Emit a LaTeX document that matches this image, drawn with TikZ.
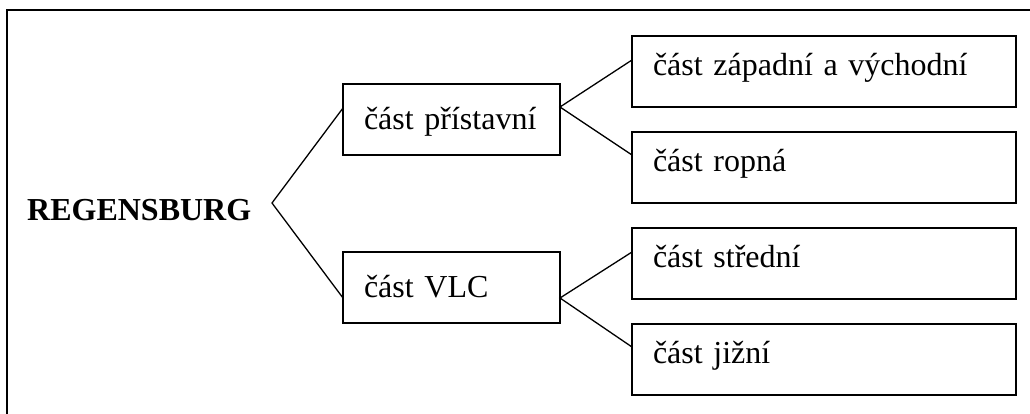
\documentclass[tikz,border=0pt]{standalone}
\usepackage{fontspec}
\setmainfont{Liberation Serif}
\usepackage{tikz}
\usetikzlibrary{positioning}

\begin{document}
\begin{tikzpicture}[x=1pt, y=-1pt,
    block/.style={rectangle, draw, line width=2pt, outer sep=0pt, inner xsep=21pt, inner ysep=0pt, minimum height=71pt, align=left, font=\fontsize{32}{38}\selectfont},
    part/.style={block, text width=175pt, text height=26pt, text depth=6pt},
    subpart/.style={block, text width=342pt, text height=22pt, text depth=14pt},
    link/.style={line width=1.3pt}
]
    \useasboundingbox (0,0) rectangle (1030,414);
    % outer frame (cut off at right and bottom)
    \draw[line width=2pt] (7,414) -- (7,10) -- (1030,10);

    \node[anchor=base west, inner sep=0pt, font=\fontsize{32}{38}\selectfont\bfseries] (regensburg) at (27,220) {REGENSBURG};
    \coordinate (split) at (272,203);

    \node[part] (pristav) at (451.5,119.5) {část přístavní};
    \node[part, below=97pt of pristav] (vlc) {část VLC};

    \node[subpart, right=72pt of pristav, yshift=48pt] (zapvych) {část západní a východní};
    \node[subpart, below=25pt of zapvych] (ropna) {část ropná};
    \node[subpart, below=25pt of ropna] (stredni) {část střední};
    \node[subpart, below=25pt of stredni] (jizni) {část jižní};

    \draw[link] ([yshift=11.5pt]pristav.west) -- (split) -- ([yshift=-10.5pt]vlc.west);
    \draw[link] ([yshift=11.5pt]zapvych.west) -- ([yshift=12.5pt]pristav.east) -- ([yshift=12.5pt]ropna.west);
    \draw[link] ([yshift=11.5pt]stredni.west) -- ([yshift=-10.5pt]vlc.east) -- ([yshift=12.5pt]jizni.west);
\end{tikzpicture}
\end{document}
